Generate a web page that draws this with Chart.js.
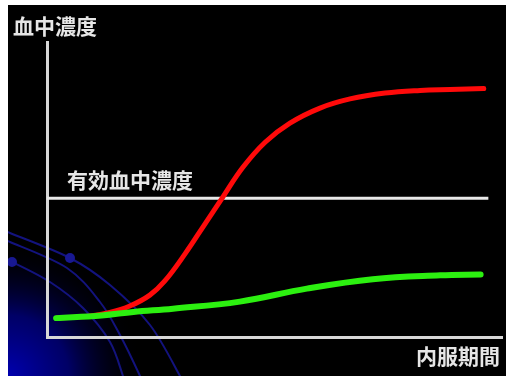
<!DOCTYPE html>
<html>
<head>
<meta charset="utf-8">
<script src="https://cdn.jsdelivr.net/npm/chart.js@4/dist/chart.umd.min.js"></script>
<style>
  html, body { margin: 0; padding: 0; background: #ffffff; }
  body { padding: 5px 0 0 8px; }
  canvas { display: block; background: #000000; }
</style>
</head>
<body>
<canvas id="chart" width="498" height="371"></canvas>
<script>
// Axis captions and reference line label
const yAxisCaption = '血中濃度';
const xAxisCaption = '内服期間';
const effectiveLabel = '有効血中濃度';

// Effective blood concentration level and its horizontal extent
const effectiveLevel = 47;
const effectiveRange = [0, 97];

// Fast-acting drug: blood concentration over the dosing period
const redX = [2.2, 9.5, 13.8, 18.2, 22.6, 25.9, 30.3, 34.7, 38.5, 43.1, 48.0, 53.4, 60.0, 66.6, 74.3, 82.0, 88.6, 96.0];
const redY = [6.4, 7.1, 8.3, 10.5, 14.2, 19.0, 28.1, 38.3, 47.1, 57.6, 66.1, 72.5, 77.6, 80.7, 82.7, 83.6, 83.9, 84.2];

// Slow drug: blood concentration over the dosing period
const greenX = [2, 12, 19, 27.7, 42.4, 57.1, 71.6, 86.4, 95.3];
const greenY = [6.4, 7.3, 8.5, 9.6, 12, 16.4, 19.6, 20.9, 21.2];

const toPoints = (xs, ys) => xs.map((x, i) => ({ x, y: ys[i] }));

// Smooth path through a list of points (Catmull-Rom)
function splinePath(ctx, pts) {
  ctx.moveTo(pts[0][0], pts[0][1]);
  for (let i = 0; i < pts.length - 1; i++) {
    const p0 = pts[i - 1] || pts[i];
    const p1 = pts[i];
    const p2 = pts[i + 1];
    const p3 = pts[i + 2] || p2;
    ctx.bezierCurveTo(
      p1[0] + (p2[0] - p0[0]) / 6, p1[1] + (p2[1] - p0[1]) / 6,
      p2[0] - (p3[0] - p1[0]) / 6, p2[1] - (p3[1] - p1[1]) / 6,
      p2[0], p2[1]);
  }
}

// Dark backdrop with the blue orbit ornament in the lower-left corner
const backdrop = {
  id: 'backdrop',
  beforeDraw(chart) {
    const { ctx, width, height } = chart;
    ctx.save();
    ctx.fillStyle = '#000000';
    ctx.fillRect(0, 0, width, height);

    const g = ctx.createRadialGradient(0, height, 0, 0, height, 135);
    g.addColorStop(0, 'rgba(0,0,175,1)');
    g.addColorStop(0.45, 'rgba(0,0,120,0.85)');
    g.addColorStop(1, 'rgba(0,0,0,0)');
    ctx.fillStyle = g;
    ctx.fillRect(0, 0, width, height);

    ctx.strokeStyle = '#13137e';
    ctx.lineWidth = 2;
    const orbits = [
      [[-4, 226], [2, 228], [62, 253], [102, 280], [142, 320], [172, 371], [176, 380]],
      [[-4, 235], [2, 237], [59, 263], [92, 297], [112, 330], [132, 371], [135, 380]],
      [[-4, 255], [4, 257], [42, 277], [75, 303], [102, 337], [115, 371], [118, 380]]
    ];
    orbits.forEach(o => { ctx.beginPath(); splinePath(ctx, o); ctx.stroke(); });

    ctx.fillStyle = '#181892';
    [[62, 253], [4, 257]].forEach(([x, y]) => {
      ctx.beginPath(); ctx.arc(x, y, 5, 0, Math.PI * 2); ctx.fill();
    });
    ctx.restore();
  }
};

// Captions drawn in canvas text
const captions = {
  id: 'captions',
  afterDraw(chart) {
    const { ctx, scales } = chart;
    ctx.save();
    ctx.fillStyle = '#e6e6e6';
    ctx.font = 'bold 21px "Noto Sans CJK JP", sans-serif';
    ctx.textBaseline = 'middle';

    ctx.textAlign = 'left';
    ctx.fillText(yAxisCaption, 5, 21);

    ctx.fillText(effectiveLabel,
      scales.x.getPixelForValue(4.4),
      scales.y.getPixelForValue(effectiveLevel) - 18);

    ctx.textAlign = 'right';
    ctx.fillText(xAxisCaption, chart.chartArea.right - 2, chart.chartArea.bottom + 19);
    ctx.restore();
  }
};

new Chart(document.getElementById('chart'), {
  type: 'line',
  data: {
    datasets: [
      {
        label: effectiveLabel,
        data: toPoints(effectiveRange, [effectiveLevel, effectiveLevel]),
        borderColor: '#e8e8e8',
        borderWidth: 3,
        pointRadius: 0,
        tension: 0,
        order: 3
      },
      {
        label: 'red',
        data: toPoints(redX, redY),
        borderColor: '#ff0a0a',
        borderWidth: 5,
        pointRadius: 0,
        tension: 0.4,
        borderCapStyle: 'round',
        borderJoinStyle: 'round',
        order: 2
      },
      {
        label: 'green',
        data: toPoints(greenX, greenY),
        borderColor: '#2cf010',
        borderWidth: 6,
        pointRadius: 0,
        tension: 0.4,
        borderCapStyle: 'round',
        borderJoinStyle: 'round',
        order: 1
      }
    ]
  },
  options: {
    responsive: false,
    animation: false,
    devicePixelRatio: 1,
    layout: { padding: { top: 37, left: 39, right: 4, bottom: 39 } },
    plugins: {
      legend: { display: false },
      tooltip: { enabled: false },
      title: { display: false }
    },
    scales: {
      x: {
        type: 'linear',
        min: 0,
        max: 100,
        grid: { display: false, drawTicks: false, tickLength: 0 },
        ticks: { display: false },
        border: { display: true, color: '#d8d8d8', width: 3 }
      },
      y: {
        type: 'linear',
        min: 0,
        max: 100,
        grid: { display: false, drawTicks: false, tickLength: 0 },
        ticks: { display: false },
        border: { display: true, color: '#d8d8d8', width: 3 }
      }
    }
  },
  plugins: [backdrop, captions]
});
</script>
</body>
</html>
